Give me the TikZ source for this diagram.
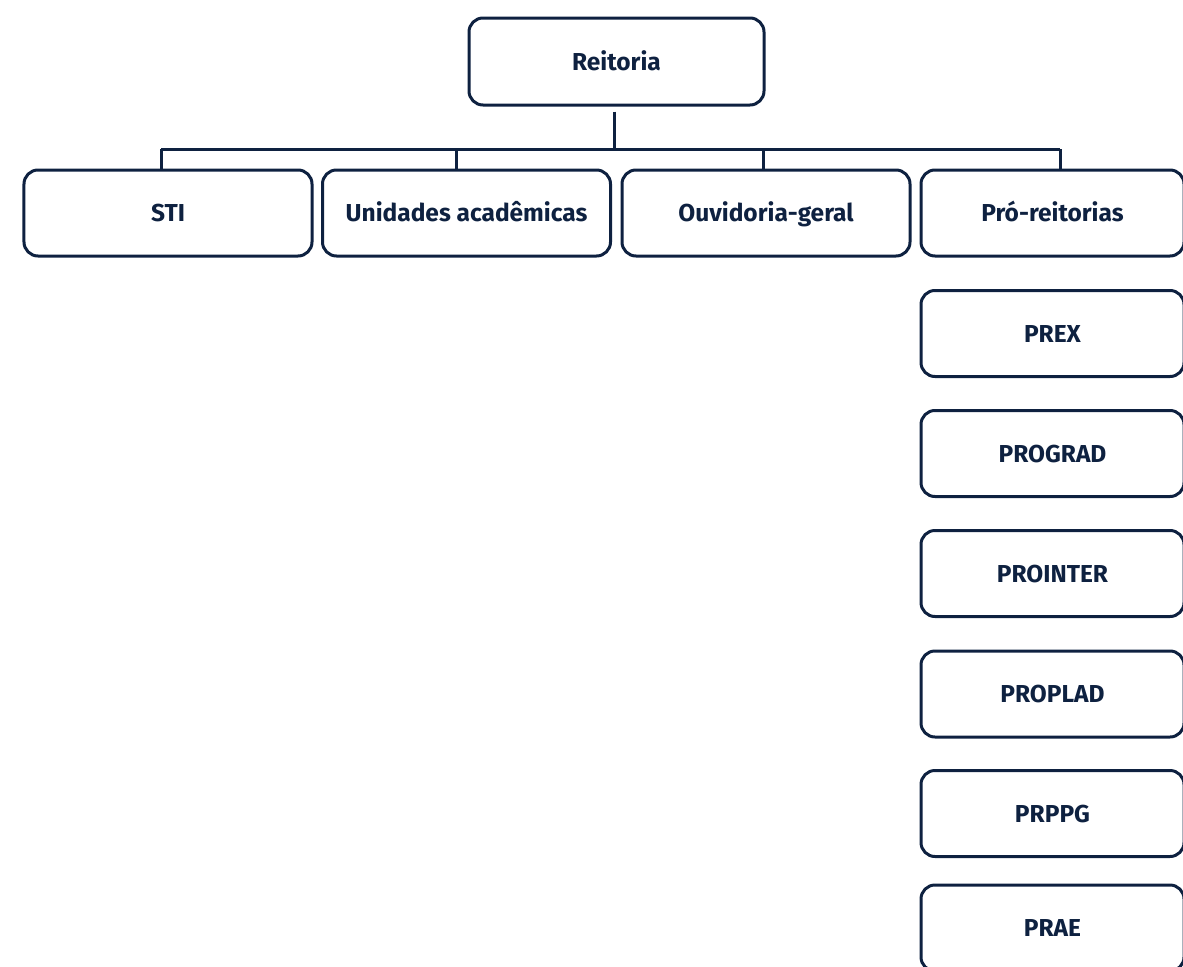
\documentclass[tikz,border=0pt]{standalone}
\usepackage{fontspec}
\setmainfont{Fira Sans}[UprightFont=* Bold]
\definecolor{navy}{RGB}{14,33,64}
\begin{document}
\begin{tikzpicture}[x=1bp,y=-1bp,
  unitbox/.style={draw=navy, line width=3bp, rounded corners=14bp,
    text=navy, font=\fontsize{24.5bp}{28bp}\selectfont,
    text height=17bp, text depth=0bp,
    minimum height=86bp, inner sep=0pt, anchor=center},
  wide/.style={unitbox, minimum width=288bp},
  side/.style={unitbox, minimum width=263bp},
  link/.style={draw=navy, line width=3bp}]
\useasboundingbox (0,0) rectangle (1183,967);

% top of the hierarchy
\node[unitbox, minimum width=295bp, minimum height=87bp] (reitoria) at (616.5,61.5) {Reitoria};

% first level
\node[wide] (sti) at (168,213) {STI};
\node[wide] (unidades) at (466.5,213) {Unidades acadêmicas};
\node[wide] (ouvidoria) at (766,213) {Ouvidoria-geral};
\node[side] (pro) at (1052.5,213) {Pró-reitorias};

% pro-rectorates
\node[side] (prex) at (1052.5,333.5) {PREX};
\node[side] (prograd) at (1052.5,453.5) {PROGRAD};
\node[side] (prointer) at (1052.5,573.5) {PROINTER};
\node[side] (proplad) at (1052.5,694) {PROPLAD};
\node[side] (prppg) at (1052.5,813.5) {PRPPG};
\node[side] (prae) at (1052.5,928) {PRAE};

% bus coordinates
\coordinate (trunk) at (614,149);
\coordinate (bsti) at (161,149);
\coordinate (bunid) at (456,149);
\coordinate (bouv) at (763,149);
\coordinate (bpro) at (1060,149);

\draw[link, shorten <=5bp] (reitoria.south -| trunk) -- (trunk);
\draw[link] (bsti) -- (bpro);
\draw[link] (bsti) -- (bsti |- sti.north);
\draw[link] (bunid) -- (bunid |- unidades.north);
\draw[link] (bouv) -- (bouv |- ouvidoria.north);
\draw[link] (bpro) -- (bpro |- pro.north);
\end{tikzpicture}
\end{document}
